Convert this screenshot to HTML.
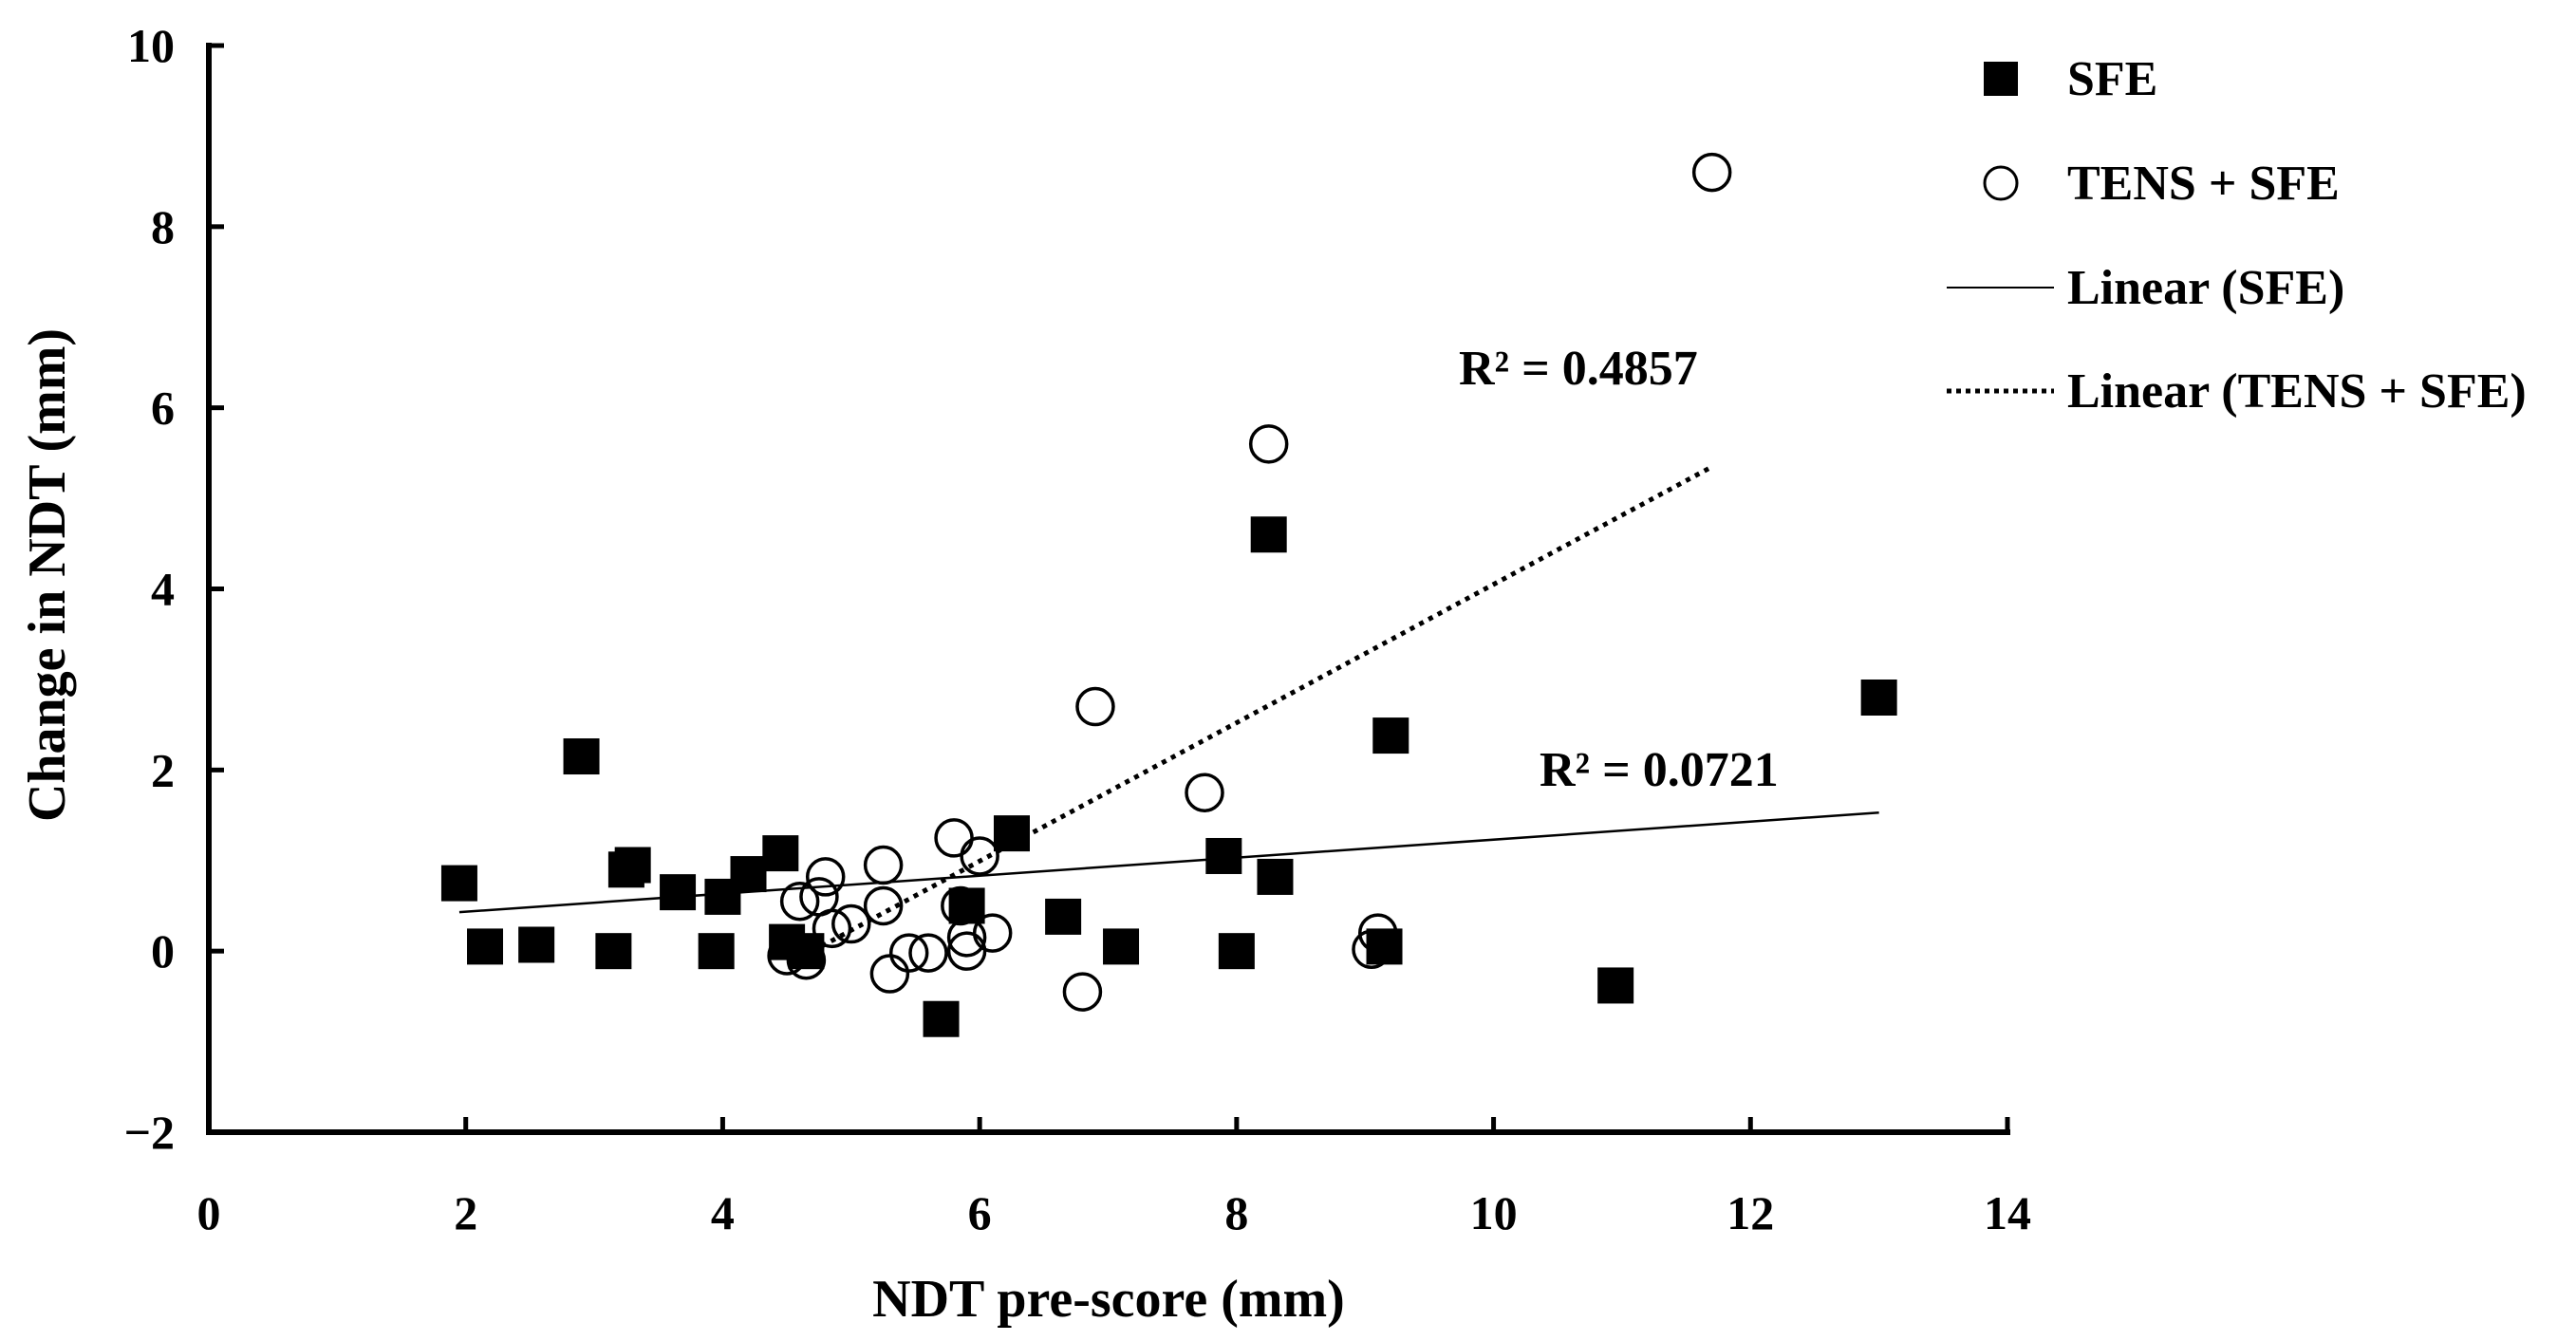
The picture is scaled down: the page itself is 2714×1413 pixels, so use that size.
<!DOCTYPE html>
<html><head><meta charset="utf-8"><style>
html,body{margin:0;padding:0;background:#fff;}
svg{display:block;font-family:"Liberation Serif",serif;font-weight:bold;}
</style></head><body>
<svg id="chart" width="2714" height="1413" viewBox="0 0 2714 1413" xmlns="http://www.w3.org/2000/svg">
<g id="axes"></g>
<g id="marks"></g>
<text transform="translate(68,606) rotate(-90)" text-anchor="middle" font-size="56">Change in NDT (mm)</text>
<text x="1168" y="1387" text-anchor="middle" font-size="56">NDT pre-score (mm)</text>
<text x="1537" y="405" font-size="52">R² = 0.4857</text>
<text x="1622" y="828" font-size="52">R² = 0.0721</text>
<g>
  <rect x="2090" y="65" width="36" height="36" fill="#000"/>
  <text x="2178" y="100" font-size="52">SFE</text>
  <circle cx="2108" cy="193" r="17" fill="#fff" stroke="#000" stroke-width="3"/>
  <text x="2178" y="210" font-size="52">TENS + SFE</text>
  <line x1="2051" y1="303" x2="2164" y2="303" stroke="#000" stroke-width="2"/>
  <text x="2178" y="320" font-size="52">Linear (SFE)</text>
  <line x1="2051" y1="412" x2="2164" y2="412" stroke="#000" stroke-width="5" stroke-dasharray="5 5"/>
  <text x="2178" y="429" font-size="52">Linear (TENS + SFE)</text>
</g>
</svg>
<script>
const xTicks=[0,2,4,6,8,10,12,14];
const yTicks=[-2,0,2,4,6,8,10];
const yTickLabels=["\u22122","0","2","4","6","8","10"];
const sfeX=[1.95,2.15,2.55,2.9,3.15,3.25,3.3,3.65,3.95,4.0,4.2,4.45,4.5,4.65,5.7,5.9,6.25,6.65,7.1,7.9,8.0,8.25,8.3,9.15,9.2,10.95,13.0];
const sfeY=[0.75,0.05,0.07,2.15,0,0.9,0.95,0.65,0,0.6,0.85,1.08,0.1,0,-0.75,0.5,1.3,0.38,0.05,1.05,0,4.6,0.82,0.05,2.38,-0.38,2.8];
const tensX=[4.5,4.6,4.65,4.75,4.8,4.85,5.0,5.25,5.25,5.3,5.45,5.6,5.8,5.85,5.9,5.9,6.0,6.1,6.8,6.9,7.75,8.25,9.05,9.1,11.7];
const tensY=[-0.05,0.55,-0.1,0.6,0.82,0.25,0.3,0.95,0.5,-0.25,-0.02,-0.02,1.25,0.5,0.15,0,1.05,0.2,-0.45,2.7,1.75,5.6,0.02,0.2,8.6];
const sfeFit=[0.0995,0.236];
const tensFit=[0.764,-3.59];
const tensFitStart=[4.7];

const NS="http://www.w3.org/2000/svg";
const X0=220,X1=2115,Y0=1193,Y1=48;
const xs=v=>X0+(v-0)/(14-0)*(X1-X0);
const ys=v=>Y0-(v+2)/(12)*(Y0-Y1);
function mk(tag,attrs,parent){const e=document.createElementNS(NS,tag);for(const k in attrs)e.setAttribute(k,attrs[k]);parent.appendChild(e);return e;}
const axes=document.getElementById('axes'),marks=document.getElementById('marks');
let e=mk('line',{x1:X0,y1:Y1-3,x2:X0,y2:Y0+3,stroke:'#000','stroke-width':6},axes);


e=mk('line',{x1:X0-3,y1:Y0,x2:X1+3,y2:Y0,stroke:'#000','stroke-width':6},axes);


yTicks.forEach((t,i)=>{
  const y=ys(t);
  const l=mk('line',{x1:X0,y1:y,x2:X0+16,y2:y,stroke:'#000','stroke-width':5},axes);
  
  
  const tx=mk('text',{x:184,y:y+17,'text-anchor':'end','font-size':50},axes);
  tx.textContent=yTickLabels[i];
  
  
});
xTicks.forEach(t=>{
  const x=xs(t);
  const l=mk('line',{x1:x,y1:Y0,x2:x,y2:Y0-16,stroke:'#000','stroke-width':5},axes);
  
  
  const tx=mk('text',{x:x,y:1295,'text-anchor':'middle','font-size':50},axes);
  tx.textContent=String(t);
  
  
});
const sMin=Math.min(...sfeX),sMax=Math.max(...sfeX);
e=mk('line',{x1:xs(sMin),y1:ys(sfeFit[0]*sMin+sfeFit[1]),x2:xs(sMax),y2:ys(sfeFit[0]*sMax+sfeFit[1]),stroke:'#000','stroke-width':2.5},marks);


const tMin=tensFitStart[0],tMax=Math.max(...tensX);
e=mk('line',{x1:xs(tMin),y1:ys(tensFit[0]*tMin+tensFit[1]),x2:xs(tMax),y2:ys(tensFit[0]*tMax+tensFit[1]),stroke:'#000','stroke-width':5,'stroke-dasharray':'5 6'},marks);


sfeX.forEach((x,i)=>{
  const r=mk('rect',{x:xs(x)-19,y:ys(sfeY[i])-19,width:38,height:38,fill:'#000'},marks);
  
  
});
tensX.forEach((x,i)=>{
  const c=mk('circle',{cx:xs(x),cy:ys(tensY[i]),r:19,fill:'#fff','fill-opacity':0,stroke:'#000','stroke-width':3.5},marks);
  
  
});
</script>
</body></html>
